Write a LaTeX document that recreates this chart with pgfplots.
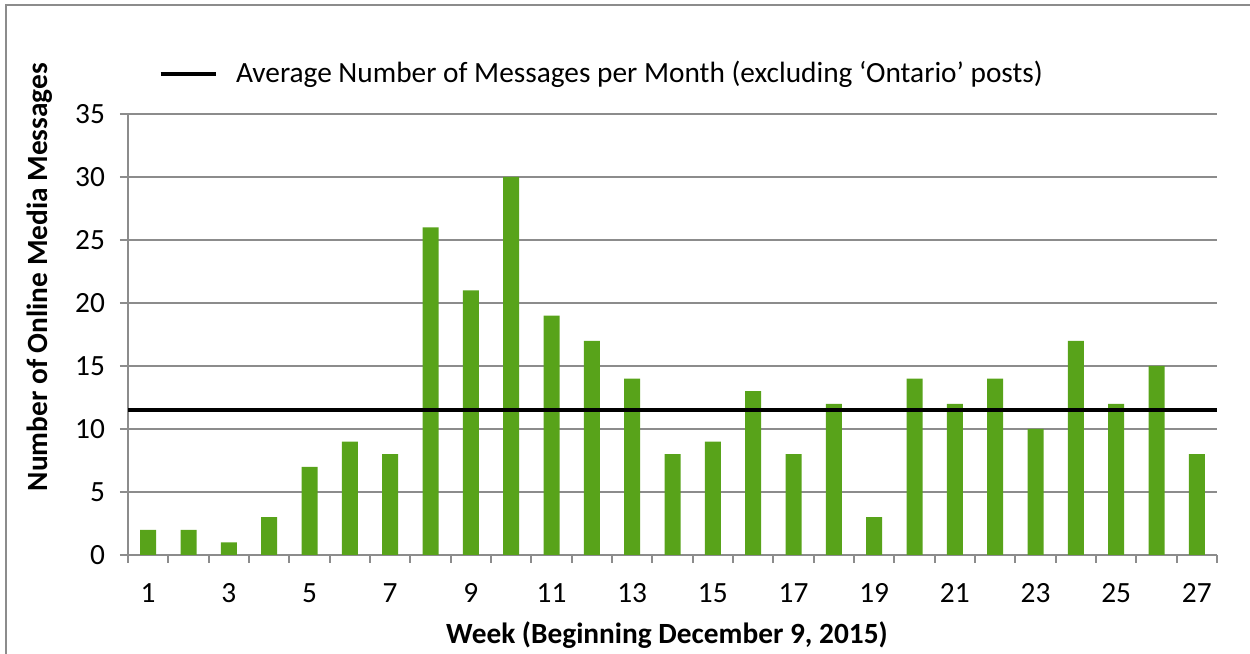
\documentclass[border=0pt]{standalone}
\usepackage{pgfplots}
\pgfplotsset{compat=1.18}
\usepackage{fontspec}
\setmainfont{Carlito}
\definecolor{bargreen}{RGB}{88,163,26}
\definecolor{gridgray}{RGB}{140,140,140}

\begin{document}
\begin{tikzpicture}[font=\fontsize{8.8}{10.5}\selectfont]
\begin{axis}[
    scale only axis,
    width=326.7pt, height=132.3pt,
    xmin=0.5, xmax=27.5,
    ymin=0, ymax=35,
    ytick={0,5,...,35},
    xtick={1,3,...,27},
    minor xtick={0.5,1.5,...,27.5},
    major x tick style={draw=none},
    tick align=outside,
    major tick length=2.4pt,
    minor tick length=2.4pt,
    tick style={gridgray, line width=0.6pt},
    axis lines*=left,
    axis line style={gridgray, line width=0.6pt, -},
    ymajorgrids,
    major grid style={gridgray, line width=0.6pt},
    /pgf/number format/assume math mode=true,
    yticklabel style={xshift=-1pt},
    xticklabel style={yshift=-2.6pt},
    xlabel={\bfseries Week (Beginning December 9, 2015)},
    xlabel style={at={(axis description cs:0.495,-0.181)}, anchor=center},
    ylabel={\bfseries Number of Online Media Messages},
    ylabel style={at={(axis description cs:-0.0808,0.63)}, anchor=center},
    legend style={at={(axis description cs:0,1)}, anchor=west, xshift=6pt, yshift=12pt,
        draw=none, fill=none},
    legend image code/.code={\draw[#1] (0pt,0pt) -- (16.5pt,0pt);},
    legend cell align=left,
    legend style={nodes={inner xsep=5.5pt}},
]
% weekly counts
\addplot[ybar, bar width=4.8pt, fill=bargreen, draw=none, forget plot] coordinates {
    (1,2) (2,2) (3,1) (4,3) (5,7) (6,9) (7,8) (8,26) (9,21) (10,30)
    (11,19) (12,17) (13,14) (14,8) (15,9) (16,13) (17,8) (18,12) (19,3)
    (20,14) (21,12) (22,14) (23,10) (24,17) (25,12) (26,15) (27,8)
};
% average line
\addplot[black, line width=1.2pt] coordinates {(0.5,11.5) (27.5,11.5)};
\addlegendentry{Average Number of Messages per Month (excluding ‘Ontario’ posts)}
\coordinate (ll) at (rel axis cs:0,0);
\coordinate (ur) at (rel axis cs:1,1);
\end{axis}
\pgfresetboundingbox
\path[use as bounding box] ([shift={(-38.4pt,-29.7pt)}]ll) rectangle ([shift={(9.9pt,34.2pt)}]ur);
\draw[gridgray, line width=0.6pt] ([shift={(-36.6pt,-35pt)}]ll) |- ([shift={(15pt,32.7pt)}]ur);
\end{tikzpicture}
\end{document}
